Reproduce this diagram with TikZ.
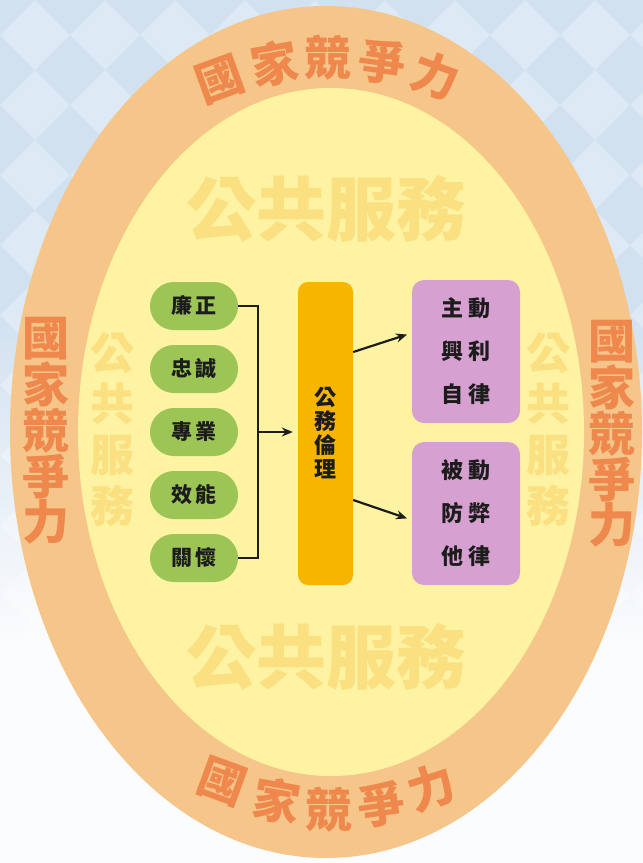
\documentclass[tikz,border=0pt]{standalone}
\usepackage{fontspec}
\newfontfamily\cjk{Noto Sans CJK TC}
\usetikzlibrary{arrows.meta}
\definecolor{bgtop}{RGB}{221,233,245}
\definecolor{bgdark}{RGB}{209,225,240}
\definecolor{ringc}{RGB}{246,197,138}
\definecolor{ringtext}{RGB}{238,136,76}
\definecolor{innerc}{RGB}{253,243,162}
\definecolor{wmc}{RGB}{251,224,130}
\definecolor{pillc}{RGB}{156,197,86}
\definecolor{barc}{RGB}{246,182,0}
\definecolor{purpc}{RGB}{214,160,209}
\definecolor{txtc}{RGB}{28,28,28}
\tikzset{
  ringtxt/.style={font=\cjk\bfseries\fontsize{47}{43.5}\selectfont, text=ringtext, inner sep=0pt, align=center},
  wmbig/.style={font=\cjk\bfseries\fontsize{70}{70}\selectfont, text=wmc, inner sep=0pt},
  wmv/.style={font=\cjk\bfseries\fontsize{44}{51}\selectfont, text=wmc, inner sep=0pt, align=center},
  pillbox/.style={fill=pillc, rounded corners=23.9pt, minimum width=88pt, minimum height=48pt, inner sep=0pt,
    font=\cjk\bfseries\fontsize{21}{24}\selectfont, text=txtc},
  barbox/.style={fill=barc, rounded corners=10pt, minimum width=55pt, minimum height=303pt, inner sep=0pt,
    align=center, font=\cjk\bfseries\fontsize{22}{24}\selectfont, text=txtc},
  purpbox/.style={fill=purpc, rounded corners=12pt, minimum width=108pt, minimum height=143pt, inner sep=0pt,
    align=center, font=\cjk\bfseries\fontsize{22}{43}\selectfont, text=txtc},
  conn/.style={line width=2.2pt, draw=txtc},
  arr/.style={conn, -{Stealth[length=11pt,width=9pt]}, shorten >=5pt}
}
\begin{document}
\begin{tikzpicture}[x=1pt,y=-1pt]
\useasboundingbox (0,0) rectangle (643,863);
% background
\fill[bgtop] (0,0) rectangle (643,863);
\begin{scope}
\clip (0,0) rectangle (643,863);
\foreach \i in {0,...,12}{
  \foreach \j in {0,...,10}{
    \pgfmathsetmacro\cx{\j*70}
    \pgfmathsetmacro\cy{\i*70}
    \fill[bgdark] (\cx+35,\cy) -- (\cx,\cy+35) -- (\cx-35,\cy) -- (\cx,\cy-35) -- cycle;
  }
}
\foreach \k in {0,...,199}{
  \pgfmathsetmacro\yy{300+\k*2}
  \pgfmathsetmacro\op{min(0.9,\k/190)}
  \fill[white, opacity=\op] (0,\yy) rectangle (643,\yy+2);
}
\fill[white, opacity=0.9] (0,700) rectangle (643,863);
\end{scope}
% ellipses
\fill[ringc] (326,432) ellipse [x radius=316pt, y radius=426pt];
\fill[innerc] (331,432) ellipse [x radius=253pt, y radius=344pt];
% ring texts
\node[ringtxt, rotate=20] (rt1) at (220,80) {國};
\node[ringtxt, rotate=10] (rt2) at (274,64) {家};
\node[ringtxt] (rt3) at (328,58) {競};
\node[ringtxt, rotate=-8] (rt4) at (382,62) {爭};
\node[ringtxt, rotate=-20] (rt5) at (436,76) {力};
\node[ringtxt, rotate=-20] (rb1) at (222,782) {國};
\node[ringtxt, rotate=-10] (rb2) at (277,801) {家};
\node[ringtxt] (rb3) at (329,810) {競};
\node[ringtxt, rotate=8] (rb4) at (381,805) {爭};
\node[ringtxt, rotate=18] (rb5) at (431,787) {力};
\node[ringtxt] (rl) at (46,431) {國\\家\\競\\爭\\力};
\node[ringtxt] (rr) at (612,434) {國\\家\\競\\爭\\力};
% watermarks
\node[wmbig] (wt) at (326,209) {公共服務};
\node[wmbig] (wb) at (326,657) {公共服務};
\node[wmv] (wl) at (112,430) {公\\共\\服\\務};
\node[wmv] (wr) at (548,430) {公\\共\\服\\務};
% pills
\node[pillbox] (p1) at (194,306) {廉\hspace{3pt}正};
\node[pillbox] (p2) at (194,369) {忠\hspace{3pt}誠};
\node[pillbox] (p3) at (194,432) {專\hspace{3pt}業};
\node[pillbox] (p4) at (194,495) {效\hspace{3pt}能};
\node[pillbox] (p5) at (194,558) {關\hspace{3pt}懷};
% bar
\node[barbox] (bar) at (325.5,433.5) {公\\務\\倫\\理};
% purple boxes
\node[purpbox] (pt) at (466,351.5) {主\hspace{5pt}動\\興\hspace{5pt}利\\自\hspace{5pt}律};
\node[purpbox] (pb) at (466,513.5) {被\hspace{5pt}動\\防\hspace{5pt}弊\\他\hspace{5pt}律};
% connectors
\draw[conn] (p1.east) -- ++(20,0) |- (p5.east);
\coordinate (jn) at ([xshift=20pt]p3.east);
\draw[arr] (jn) -- (bar.west |- jn);
\draw[arr] ([yshift=81.5pt]bar.east) -- ([yshift=18.5pt]pt.west);
\draw[arr] ([yshift=-66.5pt]bar.east) -- ([yshift=-6.5pt]pb.west);
\end{tikzpicture}
\end{document}
